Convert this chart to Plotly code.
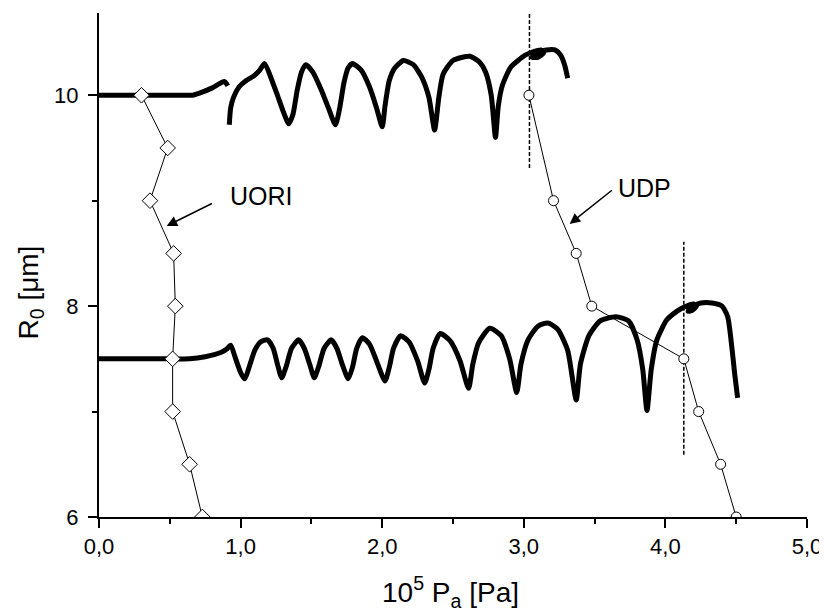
import plotly.graph_objects as go

# UORI (diamonds) and UDP (circles) threshold curves
uori_x = [0.30, 0.485, 0.36, 0.527, 0.539, 0.52, 0.52, 0.64, 0.73]
uori_y = [10.0, 9.5, 9.0, 8.5, 8.0, 7.5, 7.0, 6.5, 6.0]
udp_x = [3.036, 3.21, 3.37, 3.48, 4.13, 4.235, 4.39, 4.50]
udp_y = [10.0, 9.0, 8.5, 8.0, 7.5, 7.0, 6.5, 6.0]

# R0 = 10 um response curve (two pieces)
up1_x = [0.0, 0.3, 0.6, 0.66, 0.71, 0.80, 0.885, 0.91]
up1_y = [10.0, 10.0, 10.0, 10.0, 10.02, 10.07, 10.13, 10.09]
up2_x = [0.92, 0.93, 0.95, 0.99, 1.04, 1.09, 1.13, 1.17, 1.21, 1.26, 1.30, 1.34, 1.37, 1.40, 1.43,
         1.46, 1.51, 1.57, 1.62, 1.67, 1.70, 1.73, 1.76, 1.79, 1.85, 1.91, 1.96, 2.00, 2.02, 2.05,
         2.09, 2.15, 2.22, 2.28, 2.33, 2.37, 2.40, 2.43, 2.50, 2.62, 2.69, 2.73, 2.77, 2.80, 2.82,
         2.85, 2.91, 3.01, 3.06, 3.12, 3.14, 3.10, 3.06, 3.10, 3.16, 3.22, 3.26, 3.29, 3.31]
up2_y = [9.72, 9.88, 9.98, 10.08, 10.14, 10.18, 10.23, 10.30, 10.18, 10.00, 9.85, 9.73, 9.82, 10.05, 10.22,
         10.29, 10.22, 10.05, 9.88, 9.72, 9.88, 10.12, 10.26, 10.30, 10.24, 10.08, 9.88, 9.70, 9.90, 10.14,
         10.26, 10.33, 10.29, 10.17, 9.98, 9.67, 9.98, 10.20, 10.33, 10.37, 10.31, 10.22, 10.00, 9.60, 9.90,
         10.10, 10.27, 10.38, 10.41, 10.43, 10.40, 10.36, 10.36, 10.41, 10.43, 10.43, 10.38, 10.28, 10.16]

# R0 = 7.5 um response curve
lo_x = [0.0, 0.5, 0.64, 0.75, 0.86, 0.90, 0.93, 0.96, 1.00, 1.03, 1.06, 1.10, 1.14, 1.19, 1.23, 1.26,
        1.29, 1.32, 1.36, 1.41, 1.45, 1.49, 1.52, 1.55, 1.59, 1.64, 1.68, 1.72, 1.76, 1.79, 1.82, 1.86,
        1.91, 1.96, 2.02, 2.05, 2.08, 2.13, 2.19, 2.25, 2.30, 2.33, 2.36, 2.41, 2.48, 2.55, 2.61, 2.64,
        2.68, 2.76, 2.84, 2.90, 2.95, 2.98, 3.03, 3.10, 3.17, 3.24, 3.31, 3.37, 3.40, 3.46, 3.54, 3.65,
        3.74, 3.80, 3.84, 3.87, 3.90, 3.94, 4.01, 4.08, 4.13, 4.20, 4.22, 4.19, 4.16, 4.18, 4.25, 4.33,
        4.40, 4.44, 4.47, 4.49, 4.51]
lo_y = [7.5, 7.5, 7.5, 7.52, 7.56, 7.59, 7.63, 7.52, 7.37, 7.31, 7.42, 7.58, 7.66, 7.68, 7.60, 7.45,
        7.32, 7.42, 7.60, 7.68, 7.60, 7.44, 7.32, 7.42, 7.60, 7.68, 7.60, 7.44, 7.31, 7.42, 7.60, 7.70,
        7.64, 7.48, 7.29, 7.42, 7.60, 7.72, 7.66, 7.48, 7.27, 7.40, 7.60, 7.74, 7.67, 7.48, 7.22, 7.45,
        7.65, 7.79, 7.72, 7.50, 7.18, 7.45, 7.68, 7.81, 7.84, 7.78, 7.58, 7.11, 7.45, 7.72, 7.86, 7.90,
        7.86, 7.68, 7.40, 7.01, 7.40, 7.68, 7.87, 7.95, 7.99, 8.02, 8.00, 7.96, 7.95, 7.99, 8.03, 8.03,
        8.00, 7.90, 7.60, 7.35, 7.13]

# dashed markers
dash1_x = [3.04, 3.04]
dash1_y = [9.31, 10.77]
dash2_x = [4.13, 4.13]
dash2_y = [6.59, 8.61]

x_ticks = [0, 1, 2, 3, 4, 5]
x_ticktext = ["0,0", "1,0", "2,0", "3,0", "4,0", "5,0"]
y_ticks = [6, 8, 10]
y_ticktext = ["6", "8", "10"]

FONT = "Liberation Sans, Arial, sans-serif"

fig = go.Figure()
thick = dict(color="black", width=5, shape="spline", smoothing=0.6)
fig.add_trace(go.Scatter(x=up1_x, y=up1_y, mode="lines", line=thick, showlegend=False))
fig.add_trace(go.Scatter(x=up2_x, y=up2_y, mode="lines", line=thick, showlegend=False))
fig.add_trace(go.Scatter(x=lo_x, y=lo_y, mode="lines", line=thick, showlegend=False))
dash = dict(color="black", width=1.5, dash="4px,2px")
fig.add_trace(go.Scatter(x=dash1_x, y=dash1_y, mode="lines", line=dash, showlegend=False))
fig.add_trace(go.Scatter(x=dash2_x, y=dash2_y, mode="lines", line=dash, showlegend=False))
fig.add_trace(go.Scatter(x=uori_x, y=uori_y, mode="lines+markers", showlegend=False,
                         line=dict(color="black", width=1),
                         marker=dict(symbol="diamond", size=12, color="white",
                                     line=dict(color="black", width=1))))
fig.add_trace(go.Scatter(x=udp_x, y=udp_y, mode="lines+markers", showlegend=False,
                         line=dict(color="black", width=1),
                         marker=dict(symbol="circle", size=10, color="white",
                                     line=dict(color="black", width=1))))

fig.add_annotation(x=0.478, y=8.76, ax=0.808, ay=8.98, xref="x", yref="y", axref="x", ayref="y",
                   text="", showarrow=True, arrowhead=2, arrowsize=1.4, arrowwidth=1.5, arrowcolor="black")
fig.add_annotation(x=3.324, y=8.78, ax=3.633, ay=9.11, xref="x", yref="y", axref="x", ayref="y",
                   text="", showarrow=True, arrowhead=2, arrowsize=1.4, arrowwidth=1.5, arrowcolor="black")
fig.add_annotation(x=1.145, y=9.04, xref="x", yref="y", text="UORI", showarrow=False,
                   font=dict(family=FONT, size=25, color="black"))
fig.add_annotation(x=3.85, y=9.12, xref="x", yref="y", text="UDP", showarrow=False,
                   font=dict(family=FONT, size=25, color="black"))

# axis titles placed as annotations
fig.add_annotation(x=-0.097, y=0.446, xref="paper", yref="paper", text="R<sub>0</sub> [μm]",
                   textangle=-90, showarrow=False, xanchor="center", yanchor="middle",
                   font=dict(family=FONT, size=28, color="black"))
fig.add_annotation(x=0.496, y=-0.149, xref="paper", yref="paper", text="10<sup>5</sup> P<sub>a</sub> [Pa]",
                   showarrow=False, xanchor="center", yanchor="middle",
                   font=dict(family=FONT, size=28, color="black"))

fig.update_layout(
    width=819, height=605,
    margin=dict(l=91, r=17, t=5, b=96),
    plot_bgcolor="white", paper_bgcolor="white",
    font=dict(family=FONT, size=22, color="black"),
    xaxis=dict(range=[0, 5], tickvals=x_ticks, ticktext=x_ticktext, showgrid=False, zeroline=False,
               showline=True, linecolor="black", linewidth=2, ticks="outside", ticklen=9,
               tickwidth=2, tickcolor="black", tickfont=dict(family=FONT, size=22, color="black"),
               minor=dict(dtick=0.5, ticks="outside", ticklen=5, tickwidth=2, tickcolor="black")),
    yaxis=dict(range=[6, 10.78], tickvals=y_ticks, ticktext=y_ticktext, showgrid=False, zeroline=False,
               showline=True, linecolor="black", linewidth=2, ticks="outside", ticklen=9,
               tickwidth=2, tickcolor="black", tickfont=dict(family=FONT, size=22, color="black"),
               ticklabelstandoff=5,
               minor=dict(dtick=1, ticks="outside", ticklen=5, tickwidth=2, tickcolor="black")),
)

fig.write_html("out.html")
